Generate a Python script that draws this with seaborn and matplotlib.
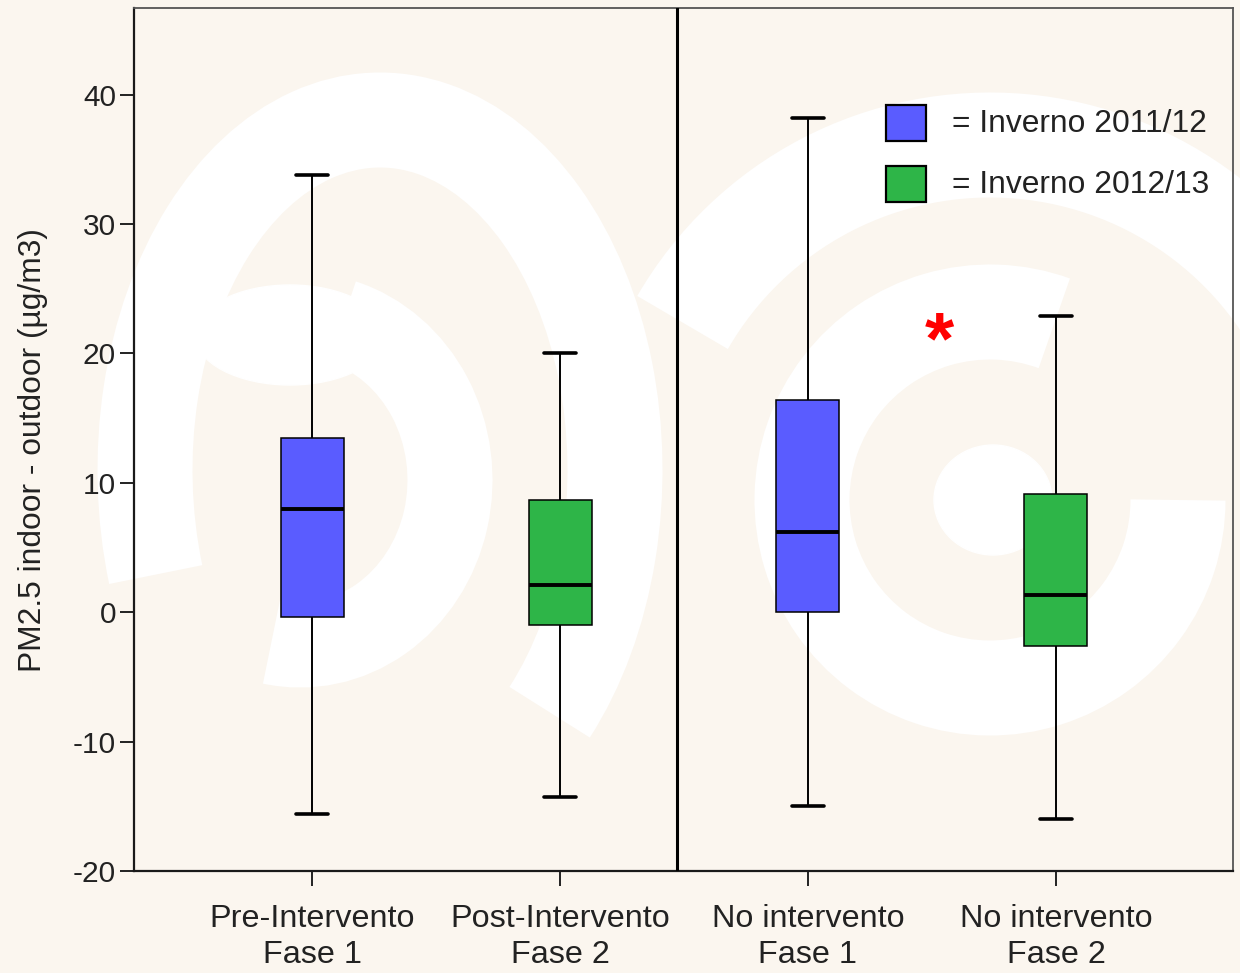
import numpy as np
import pandas as pd
import seaborn as sns
import matplotlib.pyplot as plt
from matplotlib.patches import Arc, Ellipse, Rectangle

# Five-number summaries for each group (µg/m3)
groups = ["Pre-Intervento\nFase 1", "Post-Intervento\nFase 2",
          "No intervento\nFase 1", "No intervento\nFase 2"]
seasons = ["Inverno 2011/12", "Inverno 2012/13",
           "Inverno 2011/12", "Inverno 2012/13"]
whisker_low = [-15.6, -14.3, -15.0, -16.0]
q1 = [-0.4, -1.0, 0.0, -2.6]
median = [8.0, 2.1, 6.2, 1.3]
q3 = [13.5, 8.7, 16.4, 9.1]
whisker_high = [33.8, 20.0, 38.2, 22.9]

season_colors = {"Inverno 2011/12": "#5A5CFF", "Inverno 2012/13": "#2EB548"}
yticks = [-20, -10, 0, 10, 20, 30, 40]

# Long table: each group's summary values, so quartiles land on q1/median/q3
rows = []
for g, s, lo, a, m, b, hi in zip(groups, seasons, whisker_low, q1, median, q3, whisker_high):
    for v in (lo, a, m, b, hi):
        rows.append({"group": g, "season": s, "value": v})
df = pd.DataFrame(rows)

sns.set_style("white")
plt.rcParams["font.family"] = ["Liberation Sans", "DejaVu Sans"]

W, H = 1240, 973
fig = plt.figure(figsize=(W / 100, H / 100), dpi=100)
cream = "#FBF6EF"
fig.patch.set_facecolor(cream)

# Background swirl decoration (pixel coordinates, y measured upward)
bg = fig.add_axes([0, 0, 1, 1], zorder=0)
bg.set_xlim(0, W)
bg.set_ylim(0, H)
bg.axis("off")
PT = 72 / 100  # points per pixel


def band(cx, cy, w, h, t1, t2, thick):
    bg.add_patch(Arc((cx, H - cy), w, h, theta1=t1, theta2=t2,
                     lw=thick * PT, color="white", capstyle="butt"))


def blob(cx, cy, w, h):
    bg.add_patch(Ellipse((cx, H - cy), w, h, color="white"))


# left swirl
band(380, 470, 470, 700, -55, 205, 95)
blob(290, 335, 190, 100)
band(300, 480, 300, 330, -100, 75, 85)
# right swirl
band(990, 500, 376, 376, 70, 360, 95)
band(990, 500, 710, 710, 20, 150, 105)
blob(993, 500, 118, 110)

# Main axes
left, right, top, bottom = 134, 1233, 8, 871
ax = fig.add_axes([left / W, 1 - bottom / H, (right - left) / W, (bottom - top) / H], zorder=1)
ax.patch.set_alpha(0)

sns.boxplot(data=df, x="group", y="value", hue="season", order=groups,
            hue_order=list(season_colors), palette=season_colors, dodge=False,
            saturation=1, width=0.254, whis=np.inf, linecolor="black",
            linewidth=1.1, fliersize=0, legend=False, ax=ax,
            medianprops=dict(color="black", lw=2.8),
            whiskerprops=dict(color="black", lw=1.4),
            capprops=dict(color="black", lw=2.6))

ax.set_xlim(-0.718, 3.714)
ax.set_ylim(-20, 46.7)
ax.axvline(1.47, color="black", lw=2.2, zorder=5)

ax.set_yticks(yticks)
ax.set_yticklabels([str(t) for t in yticks])
ax.set_xlabel("")
ax.set_ylabel("PM2.5 indoor - outdoor (µg/m3)", fontsize=22.9, color="#222222", labelpad=18)
ax.yaxis.label.set_y(0.488)
ax.tick_params(axis="y", direction="out", length=10, width=1.4, color="#222222",
               labelsize=21.5, labelcolor="#222222", pad=3, left=True)
ax.tick_params(axis="x", direction="out", length=11, width=1.4, color="#222222",
               labelsize=23.3, labelcolor="#222222", pad=13, bottom=True)
for lab in ax.get_xticklabels():
    lab.set_linespacing(1.26)

for side in ("left", "bottom"):
    ax.spines[side].set_color("#1a1a1a")
    ax.spines[side].set_linewidth(1.6)
for side in ("top", "right"):
    ax.spines[side].set_color("#555555")
    ax.spines[side].set_linewidth(1.3)
    ax.spines[side].set_visible(True)


def px(x, y):
    return x / W, 1 - y / H


# Legend keys drawn as squares with text
for (y0, y1), label in zip([(105, 141), (166, 202)], season_colors):
    fig.patches.append(Rectangle(px(886, y1), 40 / W, (y1 - y0) / H,
                                 transform=fig.transFigure, facecolor=season_colors[label],
                                 edgecolor="black", lw=1.6, zorder=3))
    fig.text(*px(952, (y0 + y1) / 2 + 1), "= " + label, fontsize=22.9, color="#222222",
             va="center", ha="left", zorder=3)

# Significance marker
fig.text(*px(939, 344), "*", fontsize=54, color="red", fontweight="bold",
         ha="center", va="center", zorder=3)

fig.savefig("out.png", dpi=100, facecolor=cream)
